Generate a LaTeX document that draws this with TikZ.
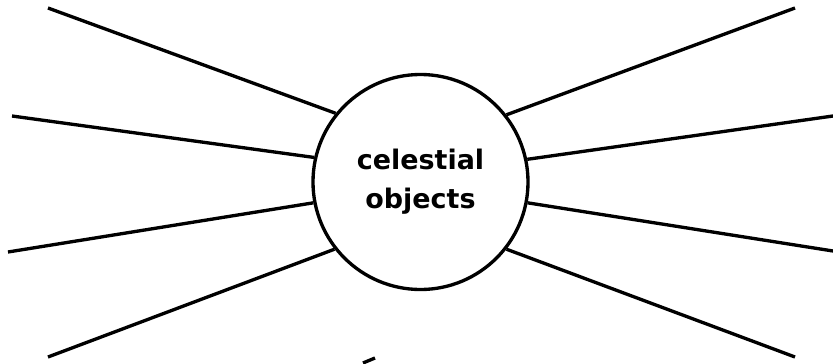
\documentclass[tikz,border=0pt]{standalone}
\usepackage{fontspec}
\setmainfont{DejaVu Sans}
\def\xHub{420.5}
\def\yHub{182}
\tikzset{
  cohub/.style={draw, circle, line width=0.1cm, minimum size=6.45cm, inner sep=0pt,
    align=center, font=\fontsize{23}{33}\selectfont\bfseries},
  coray/.style={line width=0.1cm},
}

\begin{document}
\begin{tikzpicture}[x=0.03cm, y=-0.03cm]
  \useasboundingbox (0,0) rectangle (833,364);
  \node[cohub] (hub) at (\xHub,\yHub) {celestial\\objects};

  % rays, left side then right side
  \foreach \ang/\x/\y [count=\i] in {141.3/48/8, 167.4/12/116, 191/8/252, 218.8/48/357,
                                     38.7/795/8, 12.6/833/116, -11/833/251, -38.8/795/357}
  {
    \coordinate (ray\i) at (\x,\y);
    \draw[coray] (hub.\ang) -- (ray\i);
  }

  % short cut-off stroke at the bottom edge
  \coordinate (stubA) at (363,363);
  \coordinate (stubB) at (375,358);
  \draw[coray] (stubA) -- (stubB);
\end{tikzpicture}
\end{document}
